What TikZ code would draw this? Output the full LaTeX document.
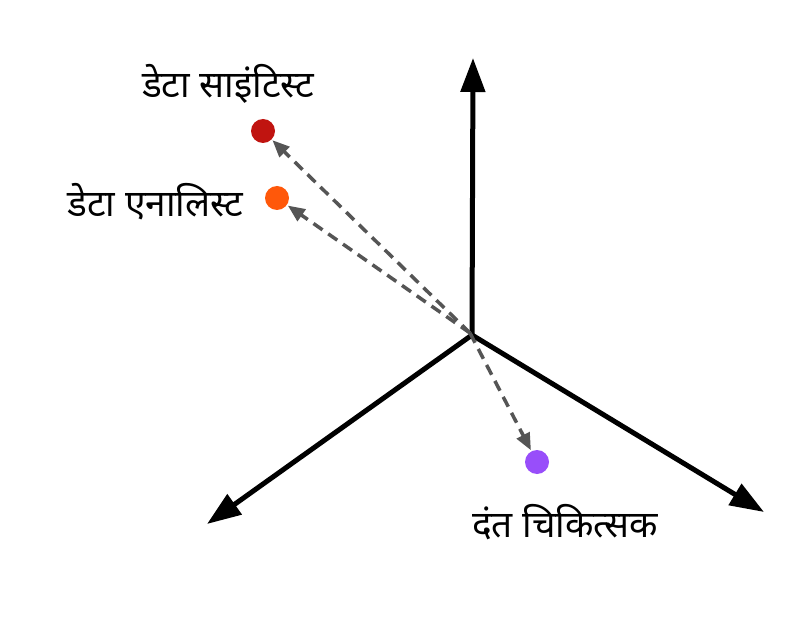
\documentclass[tikz,border=0pt]{standalone}
\usepackage{fontspec}
\newfontfamily\deva[Script=Devanagari]{Noto Sans}
\usetikzlibrary{arrows.meta}
\definecolor{dsred}{RGB}{192,20,16}
\definecolor{daorange}{RGB}{255,88,10}
\definecolor{dpurple}{RGB}{152,78,250}
\definecolor{dashgray}{RGB}{85,85,85}
\begin{document}
\begin{tikzpicture}[x=1pt,y=-1pt,
  axis/.style={line width=5pt,-{Triangle[length=34pt,width=24pt]}},
  vec/.style={dashgray,line width=3.5pt,dash pattern=on 11pt off 7pt,-{Triangle[length=17pt,width=14pt]},shorten >=1pt},
  dot/.style={circle,inner sep=0pt,minimum size=24pt},
  lbl/.style={font=\deva\fontsize{37}{42}\selectfont}]
\useasboundingbox (0,0) rectangle (806,620);
\fill[white] (0,0) rectangle (806,620);
\coordinate (o) at (472,335);
\coordinate (up) at (473,58);
\coordinate (lt) at (207,524);
\coordinate (rt) at (764,512);
\draw[axis] (o) -- (up);
\draw[axis] (o) -- (lt);
\draw[axis] (o) -- (rt);
\node[dot,fill=dsred] (ds) at (263,131) {};
\node[dot,fill=daorange] (da) at (277,198) {};
\node[dot,fill=dpurple] (dt) at (537,462) {};
\coordinate (vs) at (470,333);
\draw[vec] (vs) -- (ds);
\draw[vec] (vs) -- (da);
\draw[vec] (vs) -- (dt);
\node[lbl] (lds) at (228,84) {डेटा साइंटिस्ट};
\node[lbl,anchor=east] (lda) at (247,202) {डेटा एनालिस्ट};
\node[lbl] (ldt) at (565,522) {दंत चिकित्सक};
\end{tikzpicture}
\end{document}
